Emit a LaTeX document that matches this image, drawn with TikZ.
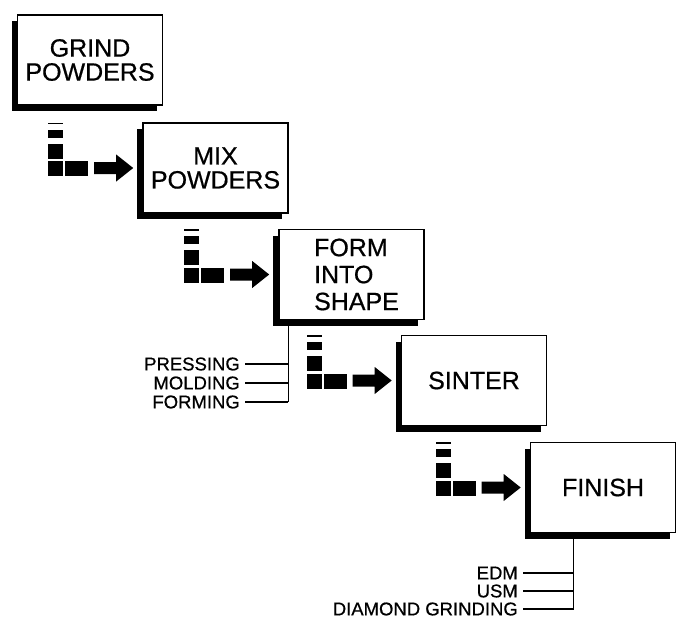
\documentclass[tikz,border=0pt]{standalone}
\usepackage{fontspec}
\setmainfont{Liberation Sans}
\newfontfamily\boxfont[FakeBold=0.6]{Liberation Sans}
\usetikzlibrary{calc,shadows}

% stacked blocks and fat arrow in front of a step box
\newcommand{\feedmark}[1]{%
  \path (#1.west) ++(-9,0) coordinate (t#1);
  \begin{scope}[shift={(t#1)}]
    \fill (-85,-45.5) rectangle (-70,-44);
    \fill (-85,-38.5) rectangle (-70,-30.5);
    \fill (-85,-24.5) rectangle (-70,-9.5);
    \fill (-85,-7) rectangle (-70,8);
    \fill (-68,-7) rectangle (-45,8);
    \fill (-39,-6) -- (-17,-6) -- (-17,-13.5) -- (0,0) -- (-17,13.5)
      -- (-17,6) -- (-39,6) -- cycle;
  \end{scope}}

\begin{document}
\begin{tikzpicture}[x=1pt,y=-1pt,
  stepbox/.style={draw,line width=1.6pt,fill=white,minimum width=145pt,
    minimum height=90pt,inner sep=0pt,align=center,
    font=\boxfont\fontsize{25}{24}\selectfont,
    drop shadow={shadow xshift=-6pt,shadow yshift=-6pt,opacity=1,fill=black}},
  sidelabel/.style={anchor=east,inner sep=0pt,
    font=\boxfont\fontsize{18.5}{19}\selectfont},
  branch/.style={line width=1.3pt}]
\useasboundingbox (0,0) rectangle (683,619);

% the five steps
\node[stepbox] (grind) at (90,60) {GRIND\\POWDERS};
\node[stepbox] (mix) at (215.5,168) {MIX\\POWDERS};
\node[stepbox,align=left,font=\boxfont\fontsize{25}{27}\selectfont] (form) at (351.5,274.5) {\hspace*{10pt}FORM\\\hspace*{10pt}INTO\\\hspace*{10pt}SHAPE};
\node[stepbox] (sinter) at (474,380.5) {SINTER};
\node[stepbox] (finish) at (603,487.5) {FINISH};

\feedmark{mix}
\feedmark{form}
\feedmark{sinter}
\feedmark{finish}

% forming methods
\coordinate (formtop) at ([xshift=10pt]form.south west);
\node[sidelabel] (pressing) at (240,364) {PRESSING};
\node[sidelabel] (molding) at (240,383) {MOLDING};
\node[sidelabel] (forming) at (240,402) {FORMING};
\draw[branch] (formtop) -- (formtop |- forming);
\foreach \n in {pressing,molding,forming}
  \draw[branch] ([xshift=5pt]\n.east) -- (\n.east -| formtop);

% finishing methods
\coordinate (finishtop) at ([xshift=44pt]finish.south west);
\node[sidelabel] (edm) at (518,573) {EDM};
\node[sidelabel] (usm) at (518,591) {USM};
\node[sidelabel] (diamond) at (518,609) {DIAMOND GRINDING};
\draw[branch] (finishtop) -- (finishtop |- diamond);
\foreach \n in {edm,usm,diamond}
  \draw[branch] ([xshift=5pt]\n.east) -- (\n.east -| finishtop);
\end{tikzpicture}
\end{document}
